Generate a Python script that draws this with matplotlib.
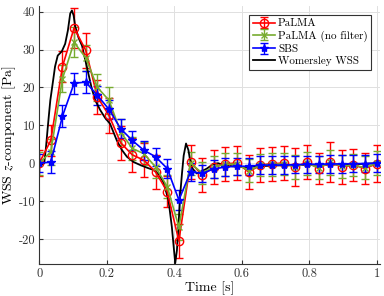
import numpy as np
import matplotlib
matplotlib.use('Agg')
import matplotlib.pyplot as plt

plt.rcParams['font.family'] = 'serif'
plt.rcParams['font.serif'] = ['cmr10']
plt.rcParams['mathtext.fontset'] = 'stix'
plt.rcParams['axes.unicode_minus'] = False

# sample times (30 points from 0 to 1 s)
t = np.linspace(0, 1, 30)

palma = [0, 6, 25.5, 35.7, 29.8, 17.5, 12.6, 5.4, 2.2, 0.8, -2.3, -7.5, -20.5, 0.3, -3.2,
         -1.0, -0.1, 0.0, -2.3, -0.5, -0.1, 0.0, -1.0, 0.3, -1.4, 0.3, -1.0, -0.5, -1.4, -0.1]
palma_err = [3.5, 4, 4, 5.3, 4.6, 4.5, 4.5, 4.5, 4.5, 4.5, 4.5, 4, 4.5, 4.5, 4.5,
             4.5, 4.5, 4.5, 4.5, 4.5, 4.5, 4.5, 5, 4.5, 4, 5.3, 4.5, 4.2, 4, 4.8]

nofilt = [0, 3, 22.3, 31.9, 27.8, 20, 16.6, 8.2, 3.9, 2.5, -1, -6.2, -16.8, 0, -2.6,
          -1, -0.3, -0.2, -2, -0.5, -0.3, -0.2, -1, 0, -1.2, 0.2, -0.8, -0.5, -1.2, 0]
nofilt_err = [3, 3.5, 3.5, 4, 3.5, 3.5, 3.5, 3.5, 3, 3, 3, 3, 3.5, 3, 3,
              3, 3, 3, 3, 3, 3, 3, 3.2, 3, 3, 3.2, 3, 3, 3, 3.2]

sbs = [0, 0.3, 12.4, 21.1, 21.4, 17.9, 14.2, 9.1, 6, 3.4, 1.7, -1.4, -9.7, -2.3, -2.7,
       -1.5, -1.0, -0.8, -0.8, -0.5, -0.5, -0.5, -0.4, -0.3, -0.3, -0.2, -0.2, -0.1, -0.1, 0]
sbs_err = [2.4, 2.8, 2.9, 2.8, 2.8, 2.6, 2.6, 2.5, 2.5, 2.5, 2.4, 2.4, 2.6, 2.3, 2.3,
           2.3, 2.3, 2.3, 2.3, 2.3, 2.3, 2.3, 2.3, 2.3, 2.3, 2.3, 2.3, 2.3, 2.3, 2.3]

# Womersley reference curve
wom_t = [0, 0.008, 0.015, 0.02, 0.026, 0.033, 0.04, 0.047, 0.055, 0.067, 0.077, 0.085,
         0.092, 0.097, 0.102, 0.107, 0.117, 0.127, 0.141, 0.155, 0.166, 0.181, 0.195,
         0.21, 0.23, 0.245, 0.26, 0.28, 0.30, 0.32, 0.339, 0.355, 0.368, 0.383, 0.393,
         0.403, 0.408, 0.413, 0.418, 0.423, 0.428, 0.435, 0.442, 0.447, 0.455, 0.467,
         0.48, 0.497, 0.516, 0.53, 0.546, 0.58, 0.615, 0.65, 0.7, 0.75, 0.8, 0.85, 0.9,
         0.95, 1.0]
wom = [0, -0.3, 0, 4, 10, 16.6, 21, 25.5, 28.4, 29.5, 31.5, 35, 39.5, 40.3, 39, 36, 33,
       31, 25.5, 20, 16.6, 14, 12, 10.4, 6, 3.5, 1.7, 0.3, -0.5, -1.2, -1.8, -3, -5,
       -9.7, -16.8, -26.4, -23, -15.8, -8, -2.7, 2, 5.2, 3.5, 0.8, -1.5, -2.7, -2.2,
       -1.4, -0.2, 0, -0.5, -0.9, -1, -0.8, -0.6, -0.5, -0.4, -0.4, -0.3, -0.2, 0]

fig = plt.figure(figsize=(3.84, 2.96), dpi=100)
ax = fig.add_axes([0.102, 0.108, 0.888, 0.872])

h1 = ax.errorbar(t, palma, yerr=palma_err, color='red', marker='o', mfc='none', ms=6,
                 lw=1.2, capsize=3, elinewidth=1, label='PaLMA')
h2 = ax.errorbar(t, nofilt, yerr=nofilt_err, color='#77AC30', marker='x', ms=5,
                 lw=1.2, capsize=3, elinewidth=1, label='PaLMA (no filter)')
h3 = ax.errorbar(t, sbs, yerr=sbs_err, color='blue', marker='*', ms=6,
                 lw=1.2, capsize=3, elinewidth=1, label='SBS')
h4, = ax.plot(wom_t, wom, color='black', lw=1.3, label='Womersley WSS')

ax.set_xlim(0, 1.01)
ax.set_ylim(-26.6, 41.5)
ax.set_xticks([0, 0.2, 0.4, 0.6, 0.8, 1])
ax.set_xticklabels(['0', '0.2', '0.4', '0.6', '0.8', '1'])
ax.set_yticks([-20, -10, 0, 10, 20, 30, 40])
ax.grid(True, color='#e0e0e0', lw=0.7)
ax.set_axisbelow(True)
for s in ['top', 'right']:
    ax.spines[s].set_visible(False)
ax.spines['left'].set_color('#333333')
ax.spines['bottom'].set_color('#333333')
ax.tick_params(direction='in', labelsize=9, colors='#333333', length=3, pad=3)
ax.set_xlabel('Time [s]', fontsize=10, labelpad=1)
ax.set_ylabel('WSS $z$-component [Pa]', fontsize=10, labelpad=0)

leg = ax.legend(handles=[h1, h2, h3, h4], loc='upper right', bbox_to_anchor=(0.99, 0.985),
                fontsize=8, fancybox=False, edgecolor='#333333', framealpha=1,
                handlelength=2.0, handletextpad=0.3, borderpad=0.3, labelspacing=0.2)
leg.get_frame().set_linewidth(0.8)

fig.savefig('out.png', dpi=100)
